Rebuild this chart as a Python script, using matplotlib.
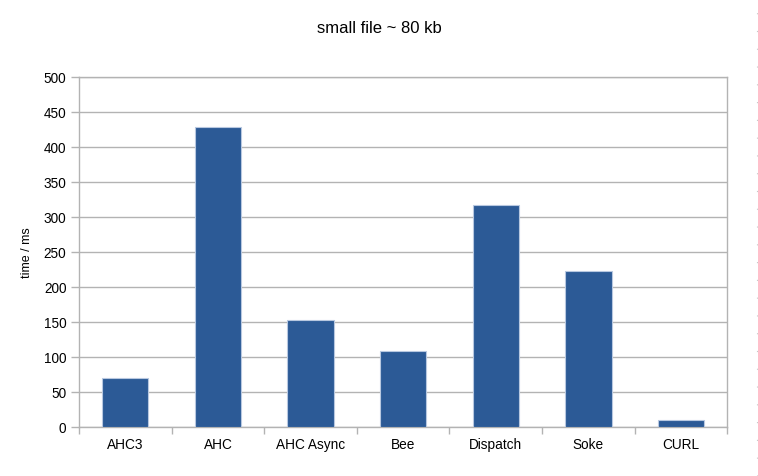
import numpy as np
import matplotlib
matplotlib.use("Agg")
from matplotlib import pyplot as plt

# data
categories = ["AHC3", "AHC", "AHC Async", "Bee", "Dispatch", "Soke", "CURL"]
times_ms = [70, 429, 154, 109, 317, 223, 10]
y_ticks = [0, 50, 100, 150, 200, 250, 300, 350, 400, 450, 500]

bar_color = "#2c5a96"
grid_color = "#b3b3b3"

plt.rcParams["font.family"] = ["Liberation Sans", "DejaVu Sans"]

fig = plt.figure(figsize=(7.58, 4.76), dpi=100)
ax = fig.add_axes([0.1042, 0.1023, 0.8553, 0.7353])

x = np.arange(len(categories))
ax.bar(x, times_ms, width=0.5, color=bar_color, edgecolor="#b8c8e0",
       linewidth=0.8, zorder=3)

ax.set_xlim(-0.5, len(categories) - 0.5)
ax.set_ylim(0, 500)
ax.set_yticks(y_ticks)
ax.tick_params(axis="y", labelsize=9.8, length=6, color=grid_color,
               width=1, pad=3)

# category labels centred, ticks at the category boundaries
ax.set_xticks(x)
ax.set_xticklabels(categories)
ax.tick_params(axis="x", which="major", length=0, labelsize=9.8, pad=8)
ax.set_xticks(np.arange(len(categories) + 1) - 0.5, minor=True)
ax.tick_params(axis="x", which="minor", length=5, color=grid_color, width=1)

ax.yaxis.grid(True, color=grid_color, linewidth=1, zorder=0)
for side in ["left", "right", "bottom", "top"]:
    ax.spines[side].set_color(grid_color)
    ax.spines[side].set_linewidth(1)

ax.set_ylabel("time / ms", fontsize=9, labelpad=8)
fig.text(0.5, 0.94, "small file ~ 80 kb", ha="center", va="center",
         fontsize=12)

# faint dotted page edge on the right
fig.add_artist(plt.Line2D([0.9993, 0.9993], [0, 1], transform=fig.transFigure,
                          color="#c8c8c8", linewidth=0.8,
                          linestyle=(0, (1, 15))))

fig.savefig("out.png", dpi=100)
